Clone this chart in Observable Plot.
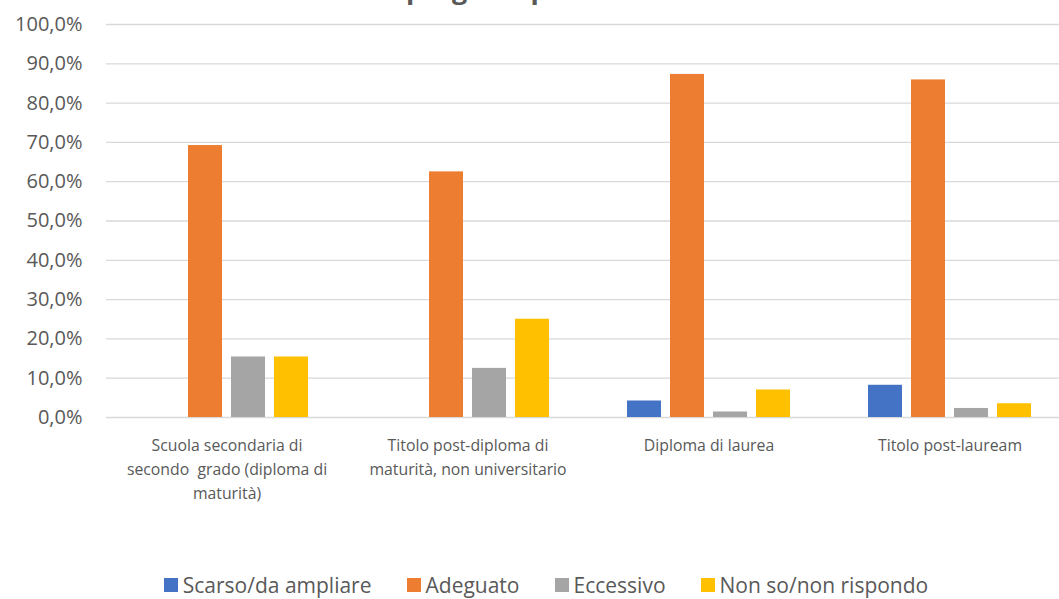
<!DOCTYPE html>
<html>
<head>
<meta charset="utf-8">
<script src="https://cdn.jsdelivr.net/npm/d3@7"></script>
<script src="https://cdn.jsdelivr.net/npm/@observablehq/plot@0.6"></script>
<style>
  html, body { margin: 0; padding: 0; background: #fff; overflow: hidden; }
  #wrap { position: relative; width: 1059px; height: 599px; overflow: hidden; font-family: "Open Sans", Lato, sans-serif; }
  #title { position: absolute; left: 0; width: 1024px; top: -25px; text-align: center; font-size: 27px; line-height: 27px; font-weight: bold; color: #595959; }
  #chart { position: absolute; left: 0; top: 0; }
  #chart svg { max-width: none !important; }
  #legend { position: absolute; left: 0; top: 572px; width: 1059px; display: flex; justify-content: center; padding-left: 33px; box-sizing: border-box; font-size: 21px; line-height: 26px; color: #595959; }
  .item { display: flex; align-items: center; margin: 0 17.5px; white-space: nowrap; }
  .sw { width: 14px; height: 14px; margin-right: 5px; }
</style>
</head>
<body>
<div id="wrap">
  <div id="title">Giudizio sul progetto per titolo di studio</div>
  <div id="chart"></div>
  <div id="legend"></div>
</div>
<script>
const categories = [
  "Scuola secondaria di\nsecondo  grado (diploma di\nmaturità)",
  "Titolo post-diploma di\nmaturità, non universitario",
  "Diploma di laurea",
  "Titolo post-lauream"
];
const series = ["Scarso/da ampliare", "Adeguato", "Eccessivo", "Non so/non rispondo"];
const colors = ["#4472C4", "#ED7D31", "#A5A5A5", "#FFC000"];
const scarso    = [0.0, 0.0, 4.2, 8.2];
const adeguato  = [69.2, 62.5, 87.3, 85.9];
const eccessivo = [15.4, 12.5, 1.4, 2.3];
const nonSo     = [15.4, 25.0, 7.0, 3.5];
const yTicks = [0, 10, 20, 30, 40, 50, 60, 70, 80, 90, 100];

const seriesValues = [scarso, adeguato, eccessivo, nonSo];
const data = [];
categories.forEach((c, i) => {
  series.forEach((s, j) => {
    data.push({cat: c, series: s, value: seriesValues[j][i]});
  });
});

const fmt = d => d.toFixed(1).replace(".", ",") + "%";

const chart = Plot.plot({
  width: 1070,
  height: 530,
  marginTop: 24,
  marginBottom: 113,
  marginLeft: 106,
  marginRight: 0,
  style: {fontFamily: "'Open Sans', Lato, sans-serif", color: "#595959", background: "transparent", overflow: "visible", maxWidth: "none"},
  fx: {domain: categories, padding: 0, label: null},
  x: {domain: series, paddingInner: 0.2, paddingOuter: 0.9, axis: null},
  y: {domain: [0, 100], axis: null},
  color: {domain: series, range: colors},
  marks: [
    Plot.ruleY(yTicks, {stroke: "#d9d9d9", strokeWidth: 1.3}),
    Plot.barY(data, {fx: "cat", x: "series", y: "value", fill: "series"}),
    Plot.axisY({ticks: yTicks, tickFormat: fmt, tickSize: 0, tickPadding: 24, fontSize: 20, label: null, anchor: "left"}),
    Plot.axisFx({anchor: "bottom", tickSize: 0, tickPadding: 16, fontSize: 15.8, label: null, lineHeight: 1.52})
  ]
});
document.getElementById("chart").appendChild(chart);

const legend = document.getElementById("legend");
series.forEach((s, j) => {
  const item = document.createElement("div");
  item.className = "item";
  const sw = document.createElement("span");
  sw.className = "sw";
  sw.style.background = colors[j];
  const t = document.createElement("span");
  t.textContent = s;
  item.appendChild(sw);
  item.appendChild(t);
  legend.appendChild(item);
});
</script>
</body>
</html>
